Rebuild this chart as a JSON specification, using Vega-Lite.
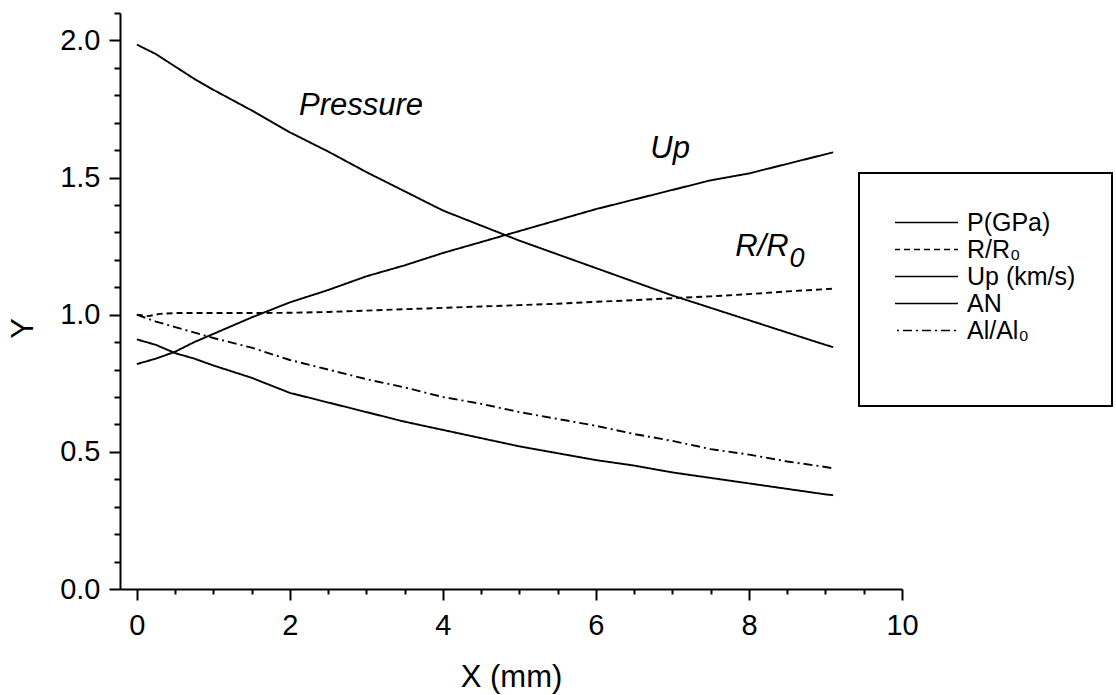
{
  "$schema": "https://vega.github.io/schema/vega-lite/v6.json",
  "width": 782,
  "height": 576,
  "autosize": "none",
  "padding": {"left": 120, "top": 13, "right": 214, "bottom": 106},
  "background": "white",
  "config": {
    "view": {"stroke": null},
    "font": "Liberation Sans",
    "axis": {"labelFont": "Liberation Sans", "titleFont": "Liberation Sans", "labelColor": "black", "titleColor": "black", "domainColor": "black", "tickColor": "black", "domainWidth": 2, "tickWidth": 2, "grid": false, "titleFontWeight": "normal", "labelFlush": false, "labelOverlap": false},
    "legend": {"labelFont": "Liberation Sans", "titleFont": "Liberation Sans", "strokeWidth": 2}
  },
  "datasets": {
    "curves": [
      {"series": "P(GPa)", "x": 0, "y": 1.985}, {"series": "P(GPa)", "x": 0.25, "y": 1.95}, {"series": "P(GPa)", "x": 0.5, "y": 1.905}, {"series": "P(GPa)", "x": 0.75, "y": 1.86}, {"series": "P(GPa)", "x": 1, "y": 1.82}, {"series": "P(GPa)", "x": 1.5, "y": 1.745}, {"series": "P(GPa)", "x": 2, "y": 1.665}, {"series": "P(GPa)", "x": 2.5, "y": 1.595}, {"series": "P(GPa)", "x": 3, "y": 1.52}, {"series": "P(GPa)", "x": 3.5, "y": 1.45}, {"series": "P(GPa)", "x": 4, "y": 1.38}, {"series": "P(GPa)", "x": 4.5, "y": 1.325}, {"series": "P(GPa)", "x": 5, "y": 1.27}, {"series": "P(GPa)", "x": 5.5, "y": 1.22}, {"series": "P(GPa)", "x": 6, "y": 1.17}, {"series": "P(GPa)", "x": 6.5, "y": 1.12}, {"series": "P(GPa)", "x": 7, "y": 1.07}, {"series": "P(GPa)", "x": 7.5, "y": 1.025}, {"series": "P(GPa)", "x": 8, "y": 0.98}, {"series": "P(GPa)", "x": 8.5, "y": 0.935}, {"series": "P(GPa)", "x": 9, "y": 0.89}, {"series": "P(GPa)", "x": 9.1, "y": 0.882},
      {"series": "R/R0", "x": 0, "y": 1.0}, {"series": "R/R0", "x": 0.15, "y": 0.995}, {"series": "R/R0", "x": 0.3, "y": 1.003}, {"series": "R/R0", "x": 0.5, "y": 1.006}, {"series": "R/R0", "x": 1, "y": 1.006}, {"series": "R/R0", "x": 1.5, "y": 1.006}, {"series": "R/R0", "x": 2, "y": 1.007}, {"series": "R/R0", "x": 2.5, "y": 1.01}, {"series": "R/R0", "x": 3, "y": 1.015}, {"series": "R/R0", "x": 3.5, "y": 1.02}, {"series": "R/R0", "x": 4, "y": 1.025}, {"series": "R/R0", "x": 4.5, "y": 1.03}, {"series": "R/R0", "x": 5, "y": 1.035}, {"series": "R/R0", "x": 5.5, "y": 1.04}, {"series": "R/R0", "x": 6, "y": 1.047}, {"series": "R/R0", "x": 6.5, "y": 1.053}, {"series": "R/R0", "x": 7, "y": 1.06}, {"series": "R/R0", "x": 7.5, "y": 1.067}, {"series": "R/R0", "x": 8, "y": 1.075}, {"series": "R/R0", "x": 8.5, "y": 1.085}, {"series": "R/R0", "x": 9, "y": 1.093}, {"series": "R/R0", "x": 9.1, "y": 1.095},
      {"series": "Up (km/s)", "x": 0, "y": 0.82}, {"series": "Up (km/s)", "x": 0.25, "y": 0.84}, {"series": "Up (km/s)", "x": 0.5, "y": 0.865}, {"series": "Up (km/s)", "x": 0.75, "y": 0.9}, {"series": "Up (km/s)", "x": 1, "y": 0.93}, {"series": "Up (km/s)", "x": 1.5, "y": 0.99}, {"series": "Up (km/s)", "x": 2, "y": 1.045}, {"series": "Up (km/s)", "x": 2.5, "y": 1.09}, {"series": "Up (km/s)", "x": 3, "y": 1.14}, {"series": "Up (km/s)", "x": 3.5, "y": 1.18}, {"series": "Up (km/s)", "x": 4, "y": 1.225}, {"series": "Up (km/s)", "x": 4.5, "y": 1.265}, {"series": "Up (km/s)", "x": 5, "y": 1.305}, {"series": "Up (km/s)", "x": 5.5, "y": 1.345}, {"series": "Up (km/s)", "x": 6, "y": 1.385}, {"series": "Up (km/s)", "x": 6.5, "y": 1.42}, {"series": "Up (km/s)", "x": 7, "y": 1.455}, {"series": "Up (km/s)", "x": 7.5, "y": 1.49}, {"series": "Up (km/s)", "x": 8, "y": 1.515}, {"series": "Up (km/s)", "x": 8.5, "y": 1.55}, {"series": "Up (km/s)", "x": 9, "y": 1.585}, {"series": "Up (km/s)", "x": 9.1, "y": 1.592},
      {"series": "AN", "x": 0, "y": 0.91}, {"series": "AN", "x": 0.25, "y": 0.89}, {"series": "AN", "x": 0.5, "y": 0.86}, {"series": "AN", "x": 0.75, "y": 0.84}, {"series": "AN", "x": 1, "y": 0.815}, {"series": "AN", "x": 1.5, "y": 0.77}, {"series": "AN", "x": 2, "y": 0.715}, {"series": "AN", "x": 2.5, "y": 0.68}, {"series": "AN", "x": 3, "y": 0.645}, {"series": "AN", "x": 3.5, "y": 0.61}, {"series": "AN", "x": 4, "y": 0.58}, {"series": "AN", "x": 4.5, "y": 0.55}, {"series": "AN", "x": 5, "y": 0.52}, {"series": "AN", "x": 5.5, "y": 0.495}, {"series": "AN", "x": 6, "y": 0.47}, {"series": "AN", "x": 6.5, "y": 0.45}, {"series": "AN", "x": 7, "y": 0.425}, {"series": "AN", "x": 7.5, "y": 0.405}, {"series": "AN", "x": 8, "y": 0.385}, {"series": "AN", "x": 8.5, "y": 0.365}, {"series": "AN", "x": 9, "y": 0.345}, {"series": "AN", "x": 9.1, "y": 0.342},
      {"series": "Al/Al0", "x": 0, "y": 1.0}, {"series": "Al/Al0", "x": 0.25, "y": 0.975}, {"series": "Al/Al0", "x": 0.5, "y": 0.955}, {"series": "Al/Al0", "x": 1, "y": 0.915}, {"series": "Al/Al0", "x": 1.5, "y": 0.88}, {"series": "Al/Al0", "x": 2, "y": 0.835}, {"series": "Al/Al0", "x": 2.5, "y": 0.8}, {"series": "Al/Al0", "x": 3, "y": 0.765}, {"series": "Al/Al0", "x": 3.5, "y": 0.735}, {"series": "Al/Al0", "x": 4, "y": 0.7}, {"series": "Al/Al0", "x": 4.5, "y": 0.675}, {"series": "Al/Al0", "x": 5, "y": 0.645}, {"series": "Al/Al0", "x": 5.5, "y": 0.62}, {"series": "Al/Al0", "x": 6, "y": 0.595}, {"series": "Al/Al0", "x": 6.5, "y": 0.565}, {"series": "Al/Al0", "x": 7, "y": 0.54}, {"series": "Al/Al0", "x": 7.5, "y": 0.51}, {"series": "Al/Al0", "x": 8, "y": 0.49}, {"series": "Al/Al0", "x": 8.5, "y": 0.465}, {"series": "Al/Al0", "x": 9, "y": 0.445}, {"series": "Al/Al0", "x": 9.1, "y": 0.44}
    ],
    "labels_center": [
      {"label": "Pressure", "x": 2.93, "y": 1.727},
      {"label": "Up", "x": 6.97, "y": 1.57}
    ],
    "labels_left": [
      {"label": "R/R", "x": 7.82, "y": 1.213}
    ],
    "labels_sub": [
      {"label": "0", "x": 8.53, "y": 1.173}
    ]
  },
  "encoding": {
    "x": {
      "field": "x", "type": "quantitative",
      "scale": {"domain": [-0.22, 10], "nice": false, "zero": false},
      "axis": {
        "values": [0, 0.5, 1, 1.5, 2, 2.5, 3, 3.5, 4, 4.5, 5, 5.5, 6, 6.5, 7, 7.5, 8, 8.5, 9, 9.5, 10],
        "labelExpr": "datum.value % 2 === 0 ? format(datum.value, 'd') : ''",
        "tickSize": {"condition": {"test": "datum.value % 2 === 0", "value": 11}, "value": 5},
        "labelFontSize": 29,
        "labelPadding": 11,
        "title": "X (mm)",
        "titleFontSize": 31,
        "titleX": 391,
        "titleY": 97,
        "titleAlign": "center",
        "titleBaseline": "alphabetic"
      }
    },
    "y": {
      "field": "y", "type": "quantitative",
      "scale": {"domain": [0, 2.1], "nice": false, "zero": false},
      "axis": {
        "values": [0, 0.1, 0.2, 0.3, 0.4, 0.5, 0.6, 0.7, 0.8, 0.9, 1.0, 1.1, 1.2, 1.3, 1.4, 1.5, 1.6, 1.7, 1.8, 1.9, 2.0, 2.1],
        "labelExpr": "(datum.value === 0 || datum.value === 0.5 || datum.value === 1 || datum.value === 1.5 || datum.value === 2) ? format(datum.value, '.1f') : ''",
        "tickSize": {"condition": {"test": "datum.value === 0 || datum.value === 0.5 || datum.value === 1 || datum.value === 1.5 || datum.value === 2", "value": 11}, "value": 6},
        "labelFontSize": 29,
        "labelPadding": 9,
        "title": "Y",
        "titleFontSize": 31,
        "titleAngle": -90,
        "titleX": -97,
        "titleY": 315,
        "titleAlign": "center",
        "titleBaseline": "middle"
      }
    }
  },
  "layer": [
    {
      "data": {"name": "curves"},
      "mark": {"type": "line", "color": "black", "strokeWidth": 1.9},
      "encoding": {
        "strokeDash": {
          "field": "series", "type": "nominal",
          "scale": {
            "domain": ["P(GPa)", "R/R0", "Up (km/s)", "AN", "Al/Al0"],
            "range": [[1, 0], [6, 4], [1, 0], [1, 0], [9, 4, 2, 4]]
          },
          "legend": {
            "orient": "none",
            "legendX": 739,
            "legendY": 160,
            "direction": "vertical",
            "symbolType": "stroke",
            "symbolSize": 5476,
            "symbolStrokeWidth": 1.6,
            "symbolStrokeColor": "black",
            "clipHeight": 27,
            "rowPadding": 0,
            "labelOffset": 8,
            "labelFontSize": 25,
            "labelColor": "black",
            "labelLimit": 300,
            "labelExpr": "datum.label === 'R/R0' ? 'R/R₀' : (datum.label === 'Al/Al0' ? 'Al/Al₀' : datum.label)",
            "padding": 36,
            "symbolOffset": -12,
            "strokeColor": "black",
            "fillColor": "white",
            "title": " ",
            "titleOrient": "bottom",
            "titleFontSize": 20,
            "titlePadding": 6
          }
        }
      }
    },
    {
      "data": {"name": "labels_center"},
      "mark": {"type": "text", "fontStyle": "italic", "fontSize": 31, "align": "center", "baseline": "alphabetic", "color": "black"},
      "encoding": {"text": {"field": "label"}}
    },
    {
      "data": {"name": "labels_left"},
      "mark": {"type": "text", "fontStyle": "italic", "fontSize": 31, "align": "left", "baseline": "alphabetic", "color": "black"},
      "encoding": {"text": {"field": "label"}}
    },
    {
      "data": {"name": "labels_sub"},
      "mark": {"type": "text", "fontStyle": "italic", "fontSize": 27, "align": "left", "baseline": "alphabetic", "color": "black"},
      "encoding": {"text": {"field": "label"}}
    }
  ]
}
